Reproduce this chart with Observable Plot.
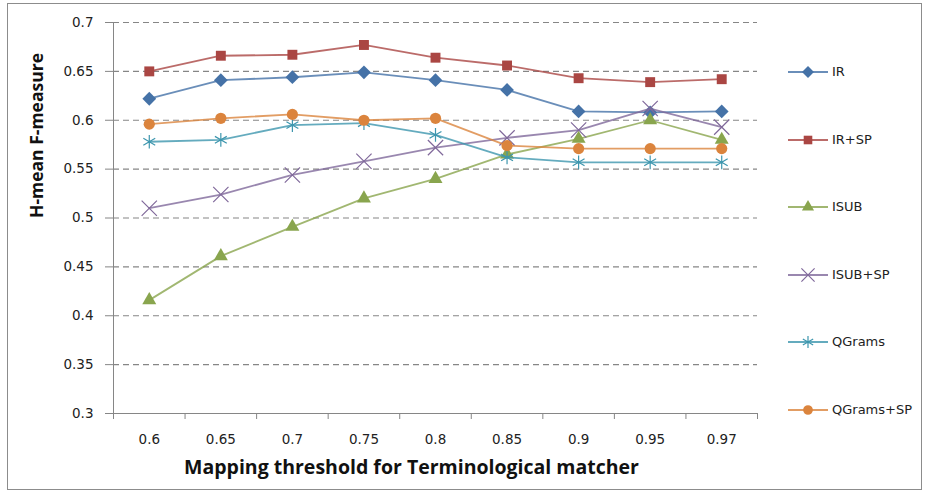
<!DOCTYPE html>
<html>
<head>
<meta charset="utf-8">
<script src="https://cdn.jsdelivr.net/npm/d3@7"></script>
<script src="https://cdn.jsdelivr.net/npm/@observablehq/plot@0.6"></script>
<style>
  body { margin: 0; background: #fff; }
  #wrap { position: relative; width: 926px; height: 493px; overflow: hidden; }
  #border { position: absolute; left: 7px; top: 3px; width: 913px; height: 485px; border: 1px solid #8c8c8c; pointer-events: none; }
  #chart { position: absolute; left: 0; top: 0; }
  #legend { position: absolute; left: 788px; top: 64px; font-family: "DejaVu Sans", sans-serif; font-size: 13px; color: #222; }
  .item { height: 67.6px; display: flex; align-items: flex-start; }
  .item svg { display: block; margin-right: 4px; }
  .item span { line-height: 16px; }
</style>
</head>
<body>
<div id="wrap">
  <div id="chart"></div>
  <div id="legend"></div>
  <div id="border"></div>
</div>
<script>
const xLabels = ["0.6", "0.65", "0.7", "0.75", "0.8", "0.85", "0.9", "0.95", "0.97"];
const yTicks = [0.3, 0.35, 0.4, 0.45, 0.5, 0.55, 0.6, 0.65, 0.7];
const seriesNames = ["IR", "IR+SP", "ISUB", "ISUB+SP", "QGrams", "QGrams+SP"];
const IR        = [0.622, 0.641, 0.644, 0.649, 0.641, 0.631, 0.609, 0.608, 0.609];
const IR_SP     = [0.650, 0.666, 0.667, 0.677, 0.664, 0.656, 0.643, 0.639, 0.642];
const ISUB      = [0.416, 0.461, 0.491, 0.520, 0.540, 0.565, 0.581, 0.600, 0.580];
const ISUB_SP   = [0.510, 0.524, 0.544, 0.558, 0.572, 0.582, 0.590, 0.612, 0.593];
const QGrams    = [0.578, 0.580, 0.595, 0.597, 0.585, 0.562, 0.557, 0.557, 0.557];
const QGrams_SP = [0.596, 0.602, 0.606, 0.600, 0.602, 0.574, 0.571, 0.571, 0.571];
const seriesValues = [IR, IR_SP, ISUB, ISUB_SP, QGrams, QGrams_SP];
const colors = ["#4572A7", "#AA4643", "#89A54E", "#80699B", "#3D96AE", "#DB843D"];
const xTitle = "Mapping threshold for Terminological matcher";
const yTitle = "H-mean F-measure";

// marker styles
const markers = [
  {symbol: d3.symbolDiamond2, r: 6.2, filled: true},
  {symbol: d3.symbolSquare, r: 5.6, filled: true},
  {symbol: d3.symbolTriangle, r: 5.2, filled: true},
  {symbol: d3.symbolTimes, r: 7, filled: false},
  {symbol: d3.symbolAsterisk, r: 6.5, filled: false},
  {symbol: d3.symbolCircle, r: 5.6, filled: true}
];

const data = seriesNames.map((name, s) =>
  seriesValues[s].map((v, i) => ({series: name, i, v})));

const axisColor = "#868686";
const marks = [
  Plot.ruleY(yTicks.slice(1), {stroke: axisColor, strokeDasharray: "6,4", strokeWidth: 1.2}),
  Plot.axisY({ticks: yTicks, tickSize: 8, tickPadding: 12, stroke: axisColor, tickFormat: d => String(d), fontSize: 13.5, fill: "#222", label: null}),
  Plot.axisX({ticks: d3.range(-0.5, xLabels.length, 1), tickSize: 6, stroke: axisColor, tickFormat: () => "", label: null}),
  Plot.axisX({ticks: d3.range(xLabels.length), tickSize: 0, tickPadding: 21, tickFormat: i => xLabels[i], fontSize: 13.5, fill: "#222", label: null}),
  Plot.frame({anchor: "left", stroke: axisColor}),
  Plot.frame({anchor: "bottom", stroke: axisColor}),
  Plot.text([xTitle], {frameAnchor: "bottom", dx: -24, dy: 60, fontWeight: "bold", fontSize: 19.5, fontFamily: "Open Sans", fill: "#111"}),
  Plot.text([yTitle], {frameAnchor: "left", dx: -76, rotate: -90, fontWeight: "bold", fontSize: 17.5, fontFamily: "Open Sans", fill: "#111"})
];
data.forEach((d, s) => {
  const m = markers[s];
  marks.push(Plot.line(d, {x: "i", y: "v", stroke: colors[s], strokeWidth: 1.8, strokeOpacity: 0.8}));
  marks.push(Plot.dot(d, {x: "i", y: "v", symbol: () => m.symbol, r: m.r,
    fill: m.filled ? colors[s] : "none", stroke: m.filled ? "none" : colors[s], strokeWidth: 1.2}));
});

const chart = Plot.plot({
  width: 926, height: 493,
  marginLeft: 113, marginRight: 169, marginTop: 22, marginBottom: 80,
  style: {fontFamily: "DejaVu Sans, sans-serif", background: "transparent"},
  x: {type: "linear", domain: [-0.5, xLabels.length - 0.5], axis: null},
  y: {domain: [yTicks[0], yTicks[yTicks.length - 1]], axis: null},
  symbol: {type: "identity"},
  marks
});
document.getElementById("chart").appendChild(chart);

// legend
const legend = d3.select("#legend");
seriesNames.forEach((name, s) => {
  const m = markers[s];
  const row = legend.append("div").attr("class", "item");
  const svg = row.append("svg").attr("width", 40).attr("height", 16);
  svg.append("line").attr("x1", 0).attr("x2", 40).attr("y1", 8).attr("y2", 8)
    .attr("stroke", colors[s]).attr("stroke-width", 1.8).attr("stroke-opacity", 0.8);
  svg.append("path").attr("transform", "translate(20,8)")
    .attr("d", d3.symbol(m.symbol, Math.PI * m.r * m.r * 0.75)())
    .attr("fill", m.filled ? colors[s] : "none")
    .attr("stroke", m.filled ? "none" : colors[s]).attr("stroke-width", 1.2);
  row.append("span").text(name);
});
</script>
</body>
</html>
